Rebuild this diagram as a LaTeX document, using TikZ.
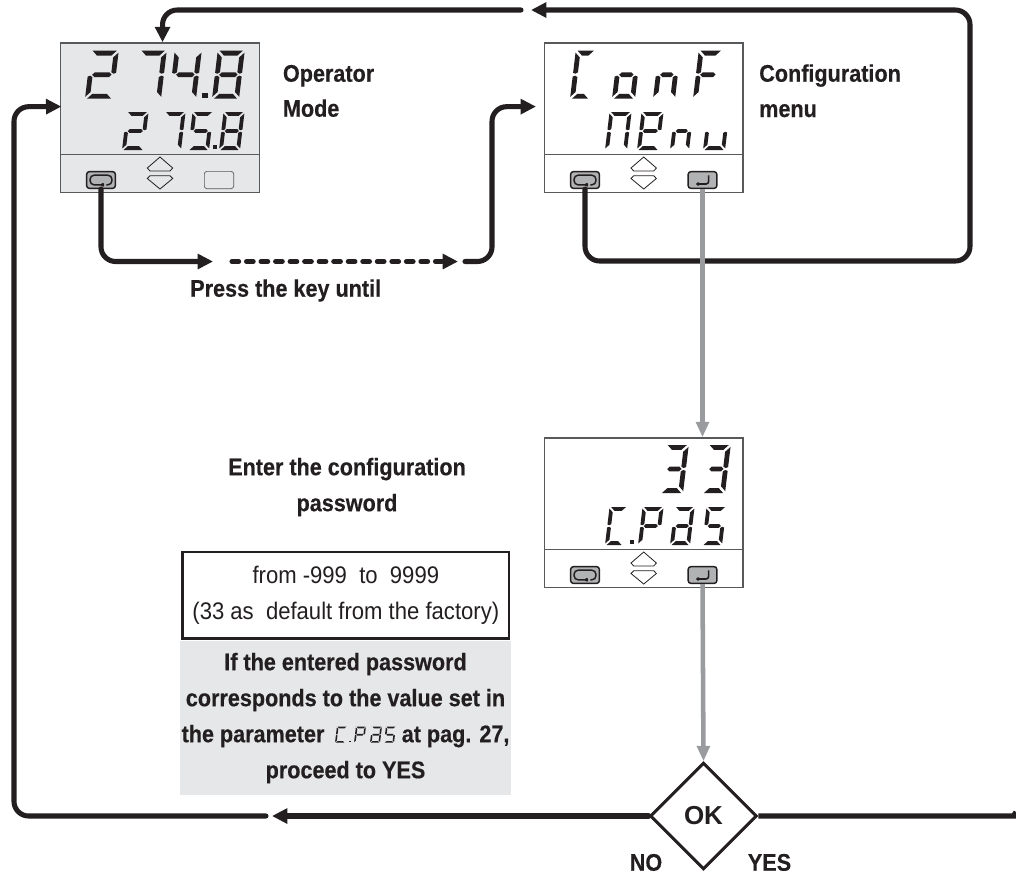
\documentclass[tikz,border=0pt]{standalone}
\usepackage{fontspec}
\setmainfont[FakeStretch=0.92,BoldFeatures={FakeStretch=0.9,FakeBold=0.4}]{Liberation Sans}
\newfontfamily\okfont{Liberation Sans}
\usetikzlibrary{positioning,arrows.meta,calc,shapes.geometric}
\definecolor{ink}{RGB}{35,31,32}
\definecolor{lcd}{RGB}{230,231,232}
\definecolor{keygray}{RGB}{176,178,180}
\definecolor{gline}{RGB}{153,155,158}
\definecolor{edge}{RGB}{88,89,91}
\tikzset{
  panel/.style={draw=edge, line width=1pt, minimum width=149pt, minimum height=112pt, inner sep=0pt},
  divline/.style={draw=edge, line width=0.8pt},
  keybox/.style={draw=ink, line width=1.1pt, rounded corners=2pt, fill=keygray,
                 minimum width=21.5pt, minimum height=12.5pt, inner sep=0pt},
  blankkey/.style={draw=edge, line width=0.5pt, rounded corners=2pt,
                 minimum width=22pt, minimum height=13pt, inner sep=0pt},
  loopkey/.style={keybox, path picture={
      \draw[ink, line width=1.1pt, rounded corners=3pt]
        ([shift={(4pt,-3.6pt)}]path picture bounding box.center) -- ++(4.2pt,0) -- ++(0,7.2pt)
        -- ++(-16.4pt,0) -- ++(0,-7.2pt) -- ++(9pt,0);
      \fill[ink] ([shift={(2.4pt,-1.4pt)}]path picture bounding box.center) -- ++(0,-4.4pt) -- ++(-3.6pt,2.2pt) -- cycle;
    }},
  enterkey/.style={keybox, path picture={
      \draw[ink, line width=1.2pt]
        ([shift={(4.6pt,3.4pt)}]path picture bounding box.center) -- ++(0,-6.4pt) -- ++(-7.5pt,0);
      \fill[ink] ([shift={(-2.2pt,-0.9pt)}]path picture bounding box.center) -- ++(0,-4.2pt) -- ++(-3.6pt,2.1pt) -- cycle;
    }},
  arr/.style={-{Triangle[length=11.5pt,width=11pt]}, line width=3.8pt, draw=ink, rounded corners=11pt, line cap=round},
  darr/.style={arr, dash pattern=on 5pt off 5.9pt},
  plainline/.style={line width=3.8pt, draw=ink, rounded corners=11pt},
  garr/.style={-{Triangle[length=11.5pt,width=9.5pt]}, line width=3.4pt, draw=gline},
  lbl/.style={font=\fontsize{18}{27}\selectfont\bfseries, text=ink, align=center, inner sep=0pt},
  frametxt/.style={draw=ink, line width=2pt, fill=white, font=\fontsize{18}{27}\selectfont, text=ink, align=center,
                 minimum width=245pt, minimum height=65pt, inner sep=0pt},
  greybox/.style={fill=lcd, lbl, minimum width=248pt, minimum height=116pt},
  decision/.style={diamond, draw=ink, line width=2.2pt, fill=white, aspect=1, inner sep=0pt,
                 minimum width=80pt, minimum height=80pt, font=\okfont\fontsize{19.5}{20}\selectfont\bfseries, text=ink},
  segfill/.style={fill=ink},
  updown/.pic={
    \draw[ink, line width=0.6pt] (-12.7,-5) -- (0,-16) -- (12.7,-5) -- (10,-2) -- (-10,-2) -- cycle;
    \draw[ink, line width=0.6pt] (-10,2.7) -- (10,2.7) -- (12.7,5.5) -- (0,16) -- (-12.7,5.5) -- cycle;
  },
}
% seven segment glyph: x, baseline, width, height, segments
\newcommand{\sega}{\fill[segfill] (\sG,\sH) -- (\sW-\sG,\sH) -- (\sW-\sG-\sT,\sH-\sT) -- (\sG+\sT,\sH-\sT) -- cycle;}
\newcommand{\segd}{\fill[segfill] (\sG,0) -- (\sW-\sG,0) -- (\sW-\sG-\sT,\sT) -- (\sG+\sT,\sT) -- cycle;}
\newcommand{\segg}{\fill[segfill] (\sG+\sT/2,\sH/2) -- (\sG+\sT,\sH/2+\sT/2) -- (\sW-\sG-\sT,\sH/2+\sT/2) -- (\sW-\sG-\sT/2,\sH/2) -- (\sW-\sG-\sT,\sH/2-\sT/2) -- (\sG+\sT,\sH/2-\sT/2) -- cycle;}
\newcommand{\segf}{\fill[segfill] (0,\sH-\sG) -- (\sT,\sH-\sG-\sT) -- (\sT,\sH/2+\sT/2) -- (\sT/2,\sH/2+\sG/2) -- (0,\sH/2+\sG) -- cycle;}
\newcommand{\sege}{\fill[segfill] (0,\sG) -- (\sT,\sG+\sT) -- (\sT,\sH/2-\sT/2) -- (\sT/2,\sH/2-\sG/2) -- (0,\sH/2-\sG) -- cycle;}
\newcommand{\segb}{\fill[segfill] (\sW,\sH-\sG) -- (\sW-\sT,\sH-\sG-\sT) -- (\sW-\sT,\sH/2+\sT/2) -- (\sW-\sT/2,\sH/2+\sG/2) -- (\sW,\sH/2+\sG) -- cycle;}
\newcommand{\segc}{\fill[segfill] (\sW,\sG) -- (\sW-\sT,\sG+\sT) -- (\sW-\sT,\sH/2-\sT/2) -- (\sW-\sT/2,\sH/2-\sG/2) -- (\sW,\sH/2-\sG) -- cycle;}
\newcommand{\segdigit}[5]{%
  \begin{scope}[shift={(#1,#2)}, y=0.75pt, xslant=0.12]
    \pgfmathsetmacro{\sW}{#3}\pgfmathsetmacro{\sH}{#4}
    \pgfmathsetmacro{\sT}{0.1*#4}\pgfmathsetmacro{\sG}{0.04*#4}
    \foreach \s in {#5} {\csname seg\s\endcsname}
  \end{scope}}
\newcommand{\segdot}[3]{\fill[segfill] (#1-#3,#2-#3) rectangle (#1+#3,#2+#3);}

\begin{document}
\begin{tikzpicture}[x=0.75pt,y=-0.75pt]
  \useasboundingbox (0,0) rectangle (1016,876);

  % operator panel
  \node[panel, fill=lcd] (opdisp) at (160,117.5) {};
  \draw[divline] ($(opdisp.west)+(0,37)$) -- ($(opdisp.east)+(0,37)$);
  \node[loopkey]  (opkey)   at (101,180) {};
  \node[blankkey] (opblank) at (219,180) {};
  \pic at (160,173) {updown};
  \segdigit{85}{98.7}{28}{48}{a,b,g,e,d}
  \segdigit{134}{98.7}{27}{48}{a,b,c}
  \segdigit{169}{98.7}{27}{48}{f,g,b,c}
  \segdot{205}{95.5}{2.6}
  \segdigit{212}{98.7}{27}{48}{a,b,c,d,e,f,g}
  \segdigit{122}{150}{22}{38}{a,b,g,e,d}
  \segdigit{160}{150}{21}{38}{a,b,c}
  \segdigit{188}{150}{21}{38}{a,f,g,c,d}
  \segdot{215}{147}{2.2}
  \segdigit{219}{150}{21}{38}{a,b,c,d,e,f,g}

  % configuration panel
  \node[panel, fill=white] (confdisp) at (643.7,117.5) {};
  \draw[divline] ($(confdisp.west)+(0,37)$) -- ($(confdisp.east)+(0,37)$);
  \node[loopkey]  (confloop)  at (585,180) {};
  \node[enterkey] (confenter) at (702.5,180) {};
  \pic at (643.7,173) {updown};
  \segdigit{570}{98.7}{20}{48}{a,f,e,d}
  \segdigit{612}{98.7}{23}{48}{g,c,d,e}
  \segdigit{653}{98.7}{22}{48}{g,c,e}
  \segdigit{693}{98.7}{24}{48}{a,f,g,e}
  \segdigit{605}{150}{22}{38}{a,b,c,e,f}
  \segdigit{637}{150}{22}{38}{a,b,f,g,e,d}
  \segdigit{670}{150}{19}{38}{g,c,e}
  \segdigit{703}{150}{22}{38}{e,d,c}

  % password panel
  \node[panel, fill=white] (passdisp) at (643.7,512.5) {};
  \draw[divline] ($(passdisp.west)+(0,37)$) -- ($(passdisp.east)+(0,37)$);
  \node[loopkey]  (passloop)  at (585,575) {};
  \node[enterkey] (passenter) at (702.5,575) {};
  \pic at (643.7,568) {updown};
  \segdigit{660}{493}{23}{48}{a,b,g,c,d}
  \segdigit{702}{493}{23}{48}{a,b,g,c,d}
  \segdigit{605}{545}{18}{38}{a,f,e,d}
  \segdot{632}{542}{2.2}
  \segdigit{638}{545}{21}{38}{a,b,f,g,e}
  \segdigit{670}{545}{20}{38}{a,b,g,e,c,d}
  \segdigit{702}{545}{20}{38}{a,f,g,c,d}

  % texts
  \node[lbl, anchor=base west] (oplbl)  at (282.7,81.7)  {Operator};
  \node[lbl, anchor=base west] (oplbl2) at (282.7,116.7) {Mode};
  \node[lbl, anchor=base west] (conflbl)  at (759,81.7) {Configuration};
  \node[lbl, anchor=base west] (conflbl2) at (759,117)  {menu};
  \node[lbl, anchor=base west] (presslbl) at (190,296.7) {Press the key until};
  \node[lbl] (enterlbl) at (347,487) {Enter the configuration\\ password};
  \node[frametxt] (range) at (345.8,595.3) {from -999\ \ to\ \ 9999\\ (33 as\ \ default from the factory)};
  \node[greybox]  (note)  at (345.5,718)
    {If the entered password\\ corresponds to the value set in\\ the parameter \hspace{49pt} at pag. 27,\\ proceed to YES};
  \segdigit{335}{742.7}{10}{16}{a,f,e,d}
  \segdot{350}{741.5}{0.9}
  \segdigit{354}{742.7}{10}{16}{a,b,f,g,e}
  \segdigit{370}{742.7}{10}{16}{a,b,g,e,c,d}
  \segdigit{384}{742.7}{10}{16}{a,f,g,c,d}

  % decision
  \node[decision] (ok) at (703.5,816) {OK};
  \node[lbl, anchor=base] (nolbl)  at (646,870.7) {NO};
  \node[lbl, anchor=base] (yeslbl) at (769.5,870.7) {YES};

  % connector end points
  \coordinate (topgapr) at (531,10);
  \coordinate (topgapl) at (521,10);
  \coordinate (pressa) at (213,261.5);
  \coordinate (dasha)  at (232,261.5);
  \coordinate (dashb)  at (458,261.5);
  \coordinate (pressb) at (465,261.5);
  \coordinate (lowgapr) at (272,816);
  \coordinate (lowgapl) at (266,816);
  \coordinate (yesend) at (1016,812);

  % black loops
  \draw[arr] (confloop.south) |- (970,261) |- (topgapr);
  \draw[arr] (topgapl) -| ([xshift=1.9pt]opdisp.north);
  \draw[arr] (opkey.south) |- (pressa);
  \draw[darr] (dasha) -- (dashb);
  \draw[arr] (pressb) -| (492,106.7) -- ([xshift=-5.8pt,yshift=8.2pt]confdisp.west);
  \draw[arr] (ok.west) -- (lowgapr);
  \draw[arr] (lowgapl) -| (14,106.7) -- ([xshift=1pt,yshift=8.2pt]opdisp.west);
  \draw[plainline] (ok.east) -- (1008,816) .. controls (1013,816) .. (yesend);

  % grey path
  \draw[garr] (confenter.south) -- (passdisp.north -| confenter.south);
  \draw[garr] (passenter.south) -- (ok.north);
\end{tikzpicture}
\end{document}
